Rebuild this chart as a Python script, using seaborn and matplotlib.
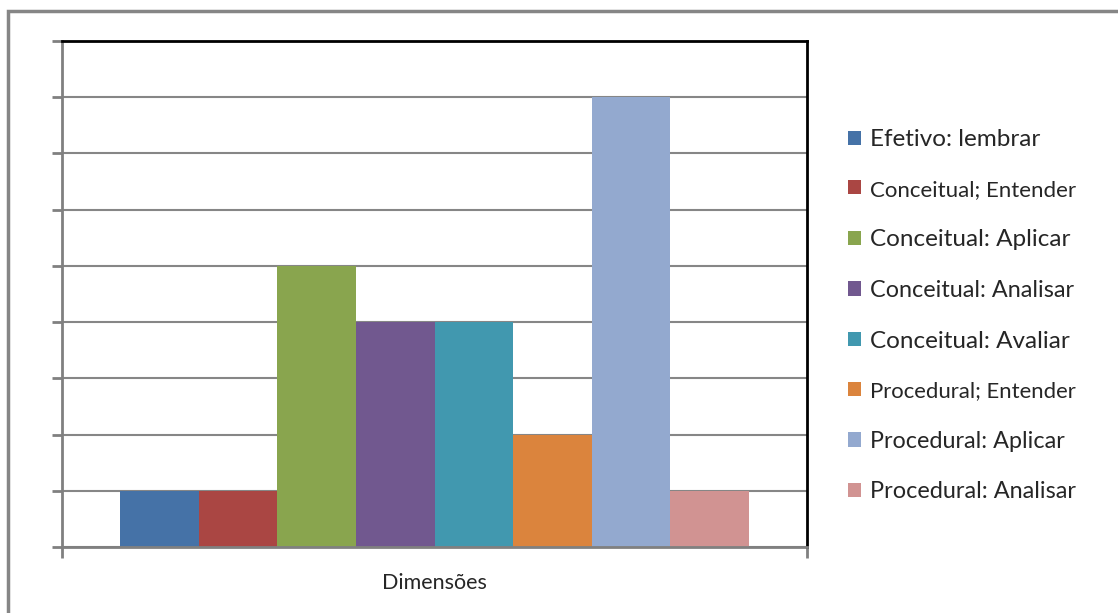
import matplotlib
matplotlib.use("Agg")
import matplotlib.pyplot as plt
from matplotlib.patches import Rectangle
import seaborn as sns
import pandas as pd

# Series (Bloom taxonomy dimension combinations) and their counts
series = [
    "Efetivo: lembrar",
    "Conceitual; Entender",
    "Conceitual: Aplicar",
    "Conceitual: Analisar",
    "Conceitual: Avaliar",
    "Procedural; Entender",
    "Procedural: Aplicar",
    "Procedural: Analisar",
]
values = [1, 1, 5, 4, 4, 2, 8, 1]
category = "Dimensões"
colors = ["#4572A7", "#AA4643", "#89A54E", "#71588F",
          "#4198AF", "#DB843D", "#93A9CF", "#D19392"]
label_sizes = [17.5, 16, 17.5, 16.8, 17.5, 15.9, 16.8, 16.9]

df = pd.DataFrame({"dim": [category] * len(series), "serie": series, "val": values})

sns.set_style("white")
plt.rcParams["font.family"] = ["Lato", "DejaVu Sans"]

fig = plt.figure(figsize=(11.18, 6.13), dpi=100)
ax = fig.add_axes([62 / 1118, 1 - 547 / 613, (807 - 62) / 1118, (547 - 41) / 613])

sns.barplot(data=df, x="dim", y="val", hue="serie", hue_order=series,
            palette=colors, saturation=1, width=0.843, gap=0,
            linewidth=0, ax=ax, legend=True)

ax.set_xlim(-0.5, 0.5)
ax.set_ylim(0, 9)
ax.set_yticks(range(0, 10))
ax.set_yticklabels([])
ax.yaxis.grid(True, color="#868686", linewidth=1.5)
ax.set_axisbelow(True)
ax.tick_params(axis="y", direction="out", length=7, width=2, color="#808080", left=True)

ax.set_xticks([0])
ax.set_xticklabels([category], fontsize=15.5)
ax.tick_params(axis="x", length=0, pad=19)
ax.set_xticks([-0.5, 0.5], minor=True)
ax.tick_params(axis="x", which="minor", direction="out", length=8, width=2,
               color="#808080", bottom=True)
ax.set_xlabel("")
ax.set_ylabel("")

for side in ("left", "bottom"):
    ax.spines[side].set_color("#808080")
    ax.spines[side].set_linewidth(2)
for side in ("top", "right"):
    ax.spines[side].set_color("black")
    ax.spines[side].set_linewidth(2)
    ax.spines[side].set_visible(True)

handles, labels = ax.get_legend_handles_labels()
ax.get_legend().remove()
leg = fig.legend(handles, labels, loc="upper left",
                 bbox_to_anchor=(848 / 1118, 1 - 129 / 613),
                 frameon=False, fontsize=17, handlelength=0.55, handleheight=0.55,
                 handletextpad=0.38, labelspacing=1.255, borderaxespad=0,
                 borderpad=0)
for t, s in zip(leg.get_texts(), label_sizes):
    t.set_fontsize(s)

# outer chart-area frame
fig.add_artist(Rectangle((7.5 / 1118, -0.2), 1.2, 1.2 - 10.5 / 613,
                         transform=fig.transFigure, fill=False,
                         edgecolor="#868686", linewidth=2.5))

fig.savefig("out.png", dpi=100)
